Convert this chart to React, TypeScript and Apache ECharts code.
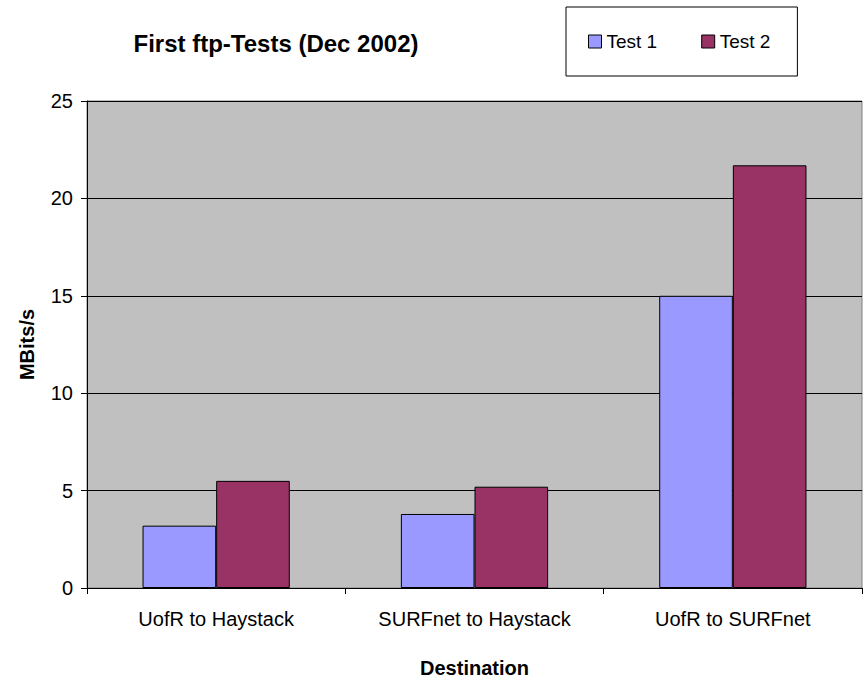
import React, { useEffect, useRef } from "react";
import * as echarts from "echarts";

const categories = ["UofR to Haystack", "SURFnet to Haystack", "UofR to SURFnet"];
const test1 = [3.2, 3.8, 15];
const test2 = [5.5, 5.2, 21.7];
const seriesNames = ["Test 1", "Test 2"];
const yTicks = { min: 0, max: 25, interval: 5 };

const FONT = "'Liberation Sans', Arial, Helvetica, sans-serif";

export default function App() {
  const ref = useRef<HTMLDivElement>(null);
  useEffect(() => {
    document.body.style.margin = "0";
    const chart = echarts.init(ref.current!, null, { renderer: "svg" });
    chart.setOption({
      animation: false,
      backgroundColor: "#ffffff",
      textStyle: { fontFamily: FONT },
      title: {
        text: "First ftp-Tests (Dec 2002)",
        left: 276,
        top: 31,
        padding: 0,
        textAlign: "center",
        textStyle: { fontFamily: FONT, fontSize: 24, fontWeight: "bold", color: "#000" },
      },
      legend: {
        data: seriesNames,
        left: 566,
        top: 7,
        orient: "horizontal",
        padding: [24, 27, 24, 22],
        itemGap: 44,
        itemWidth: 13,
        itemHeight: 13,
        icon: "rect",
        borderColor: "#000",
        borderWidth: 1,
        backgroundColor: "#fff",
        itemStyle: { borderColor: "#000", borderWidth: 1 },
        textStyle: { fontFamily: FONT, fontSize: 19, color: "#000", lineHeight: 21 },
      },
      grid: {
        left: 87,
        right: 3,
        top: 101,
        bottom: 92,
        outerBoundsMode: "none",
        containLabel: false,
        show: true,
        backgroundColor: "#C0C0C0",
        borderColor: "#808080",
        borderWidth: 1,
      },
      xAxis: {
        type: "category",
        data: categories,
        name: "Destination",
        nameLocation: "middle",
        nameGap: 70,
        nameTextStyle: { fontFamily: FONT, fontSize: 20, fontWeight: "bold", color: "#000" },
        axisLine: { show: true, lineStyle: { color: "#000", width: 1 } },
        axisTick: { show: true, length: 6, lineStyle: { color: "#000" } },
        axisLabel: { fontFamily: FONT, fontSize: 20, color: "#000", margin: 21 },
        splitLine: { show: false },
      },
      yAxis: {
        type: "value",
        min: yTicks.min,
        max: yTicks.max,
        interval: yTicks.interval,
        name: "MBits/s",
        nameLocation: "middle",
        nameGap: 50,
        nameTextStyle: { fontFamily: FONT, fontSize: 20, fontWeight: "bold", color: "#000" },
        axisLine: { show: true, lineStyle: { color: "#000", width: 1 } },
        axisTick: { show: true, length: 6, lineStyle: { color: "#000" } },
        axisLabel: { fontFamily: FONT, fontSize: 20, color: "#000", margin: 14 },
        splitLine: { show: true, lineStyle: { color: "#000", width: 1 } },
      },
      series: [
        {
          name: seriesNames[0],
          type: "bar",
          data: test1,
          barGap: "0%",
          barCategoryGap: "43%",
          itemStyle: { color: "#9999FF", borderColor: "#000", borderWidth: 1 },
        },
        {
          name: seriesNames[1],
          type: "bar",
          data: test2,
          barGap: "0%",
          barCategoryGap: "43%",
          itemStyle: { color: "#993366", borderColor: "#000", borderWidth: 1 },
        },
      ],
    });
    return () => chart.dispose();
  }, []);
  return <div ref={ref} style={{ width: 865, height: 680 }} />;
}
